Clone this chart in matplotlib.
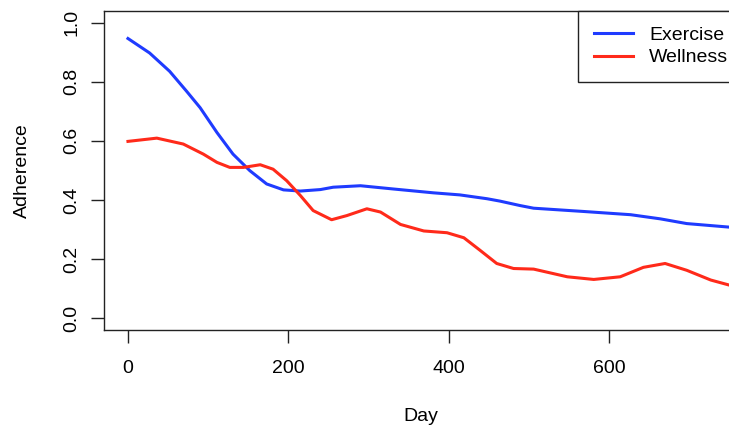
import matplotlib
matplotlib.use("Agg")
import matplotlib.pyplot as plt

# values
exercise_day = [0, 27, 52, 73, 90, 111, 131, 152, 173, 194, 215, 240, 256, 290,
                331, 381, 414, 448, 464, 489, 506, 568, 627, 664, 697, 750]
exercise_adh = [0.946, 0.897, 0.835, 0.768, 0.712, 0.628, 0.555, 0.499, 0.454,
                0.434, 0.430, 0.435, 0.443, 0.448, 0.437, 0.424, 0.417, 0.404,
                0.396, 0.381, 0.372, 0.361, 0.350, 0.336, 0.320, 0.308]

wellness_day = [0, 36, 69, 94, 111, 127, 144, 165, 181, 198, 215, 231, 254, 273,
                298, 315, 340, 369, 398, 419, 439, 460, 481, 506, 548, 581, 614,
                643, 670, 697, 727, 750]
wellness_adh = [0.598, 0.609, 0.589, 0.555, 0.527, 0.510, 0.510, 0.519, 0.504,
                0.465, 0.415, 0.364, 0.333, 0.347, 0.370, 0.359, 0.317, 0.295,
                0.289, 0.272, 0.230, 0.185, 0.168, 0.166, 0.140, 0.131, 0.140,
                0.172, 0.185, 0.162, 0.129, 0.112]

x_ticks = [0, 200, 400, 600]
y_ticks = [0.0, 0.2, 0.4, 0.6, 0.8, 1.0]

plt.rcParams['font.family'] = ['Liberation Sans', 'DejaVu Sans']
plt.rcParams['font.size'] = 14

fig = plt.figure(figsize=(7.29, 4.32), dpi=100)
# the plot box runs past the right edge of the picture, as in the reference
ax = fig.add_axes([0.1431, 0.2361, 0.8693, 0.7391])

ax.plot(exercise_day, exercise_adh, color='#1f3bff', lw=2.2, label='Exercise',
        solid_joinstyle='round')
ax.plot(wellness_day, wellness_adh, color='#ff2a1a', lw=2.2, label='Wellness',
        solid_joinstyle='round')

ax.set_xlim(-29.5, 761)
ax.set_ylim(-0.04, 1.04)
ax.set_xticks(x_ticks)
ax.set_yticks(y_ticks)
ax.set_xticklabels([str(t) for t in x_ticks])
ax.set_yticklabels(['%.1f' % t for t in y_ticks], rotation=90, va='center')

for s in ax.spines.values():
    s.set_linewidth(1.0)
    s.set_color('#222222')
ax.tick_params(axis='both', length=9.3, width=1.0, color='#222222')
ax.tick_params(axis='x', pad=12)
ax.tick_params(axis='y', pad=8)

ax.set_xlabel('Day', va='center')
ax.xaxis.set_label_coords(0.5, -0.2715)
ax.set_ylabel('Adherence', va='center')
ax.yaxis.set_label_coords(-0.129, 0.5)

leg = ax.legend(loc='upper right', bbox_to_anchor=(1.0095, 1), borderaxespad=0,
                fancybox=False, framealpha=1, edgecolor='#222222',
                handlelength=2.0, handletextpad=0.85, labelspacing=0.25,
                borderpad=0.8)
leg.get_frame().set_linewidth(1.0)

fig.savefig('out.png', dpi=100)
